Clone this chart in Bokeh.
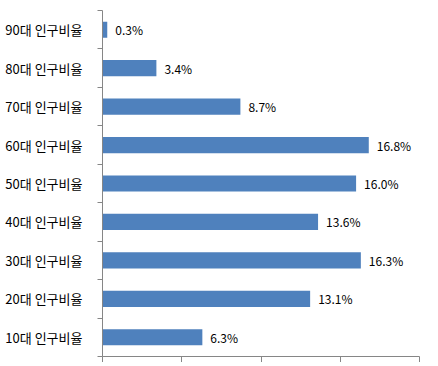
from bokeh.plotting import figure
from bokeh.models import Range1d, LinearAxis, FixedTicker, ColumnDataSource
from bokeh.core.properties import value
from bokeh.embed import file_html
from bokeh.resources import INLINE

categories = ["10대 인구비율", "20대 인구비율", "30대 인구비율", "40대 인구비율",
              "50대 인구비율", "60대 인구비율", "70대 인구비율", "80대 인구비율", "90대 인구비율"]
values = [6.3, 13.1, 16.3, 13.6, 16.0, 16.8, 8.7, 3.4, 0.3]
value_labels = ["6.3%", "13.1%", "16.3%", "13.6%", "16.0%", "16.8%", "8.7%", "3.4%", "0.3%"]
x_ticks = [0, 5, 10, 15, 20]

FONT = "Noto Sans CJK KR"
AXIS_COLOR = "#868686"

n = len(categories)
centers = [i + 0.5 for i in range(n)]
bounds = list(range(n + 1))

src = ColumnDataSource(dict(y=centers, val=values, lab=value_labels))

p = figure(y_range=Range1d(0, n), x_range=Range1d(0, 20),
           frame_width=317, frame_height=346,
           min_border_top=10, min_border_right=11, min_border_left=102, min_border_bottom=0,
           output_backend="svg", toolbar_location=None, x_axis_location=None, y_axis_location=None)
p.outline_line_color = None
p.xgrid.visible = False
p.ygrid.visible = False

y_axis = LinearAxis(ticker=FixedTicker(ticks=centers, minor_ticks=bounds),
                    major_tick_out=0, major_tick_in=0, minor_tick_out=5, minor_tick_in=0,
                    major_label_overrides={c: lab for c, lab in zip(centers, categories)},
                    major_label_standoff=15,
                    major_label_text_font=FONT, major_label_text_font_size="13px",
                    major_label_text_color="#000000",
                    axis_line_color=AXIS_COLOR, minor_tick_line_color=AXIS_COLOR)
p.add_layout(y_axis, "left")

x_axis = LinearAxis(ticker=FixedTicker(ticks=x_ticks), major_tick_out=6, major_tick_in=0,
                    minor_tick_out=0, minor_tick_in=0,
                    major_label_text_font_size="0px", major_label_standoff=0,
                    axis_line_color=AXIS_COLOR, major_tick_line_color=AXIS_COLOR)
p.add_layout(x_axis, "below")

p.hbar(y="y", right="val", left=0, height=0.42, source=src,
       fill_color="#4F81BD", line_color=None)

p.text(x="val", y="y", text="lab", source=src, x_offset=8,
       text_baseline="middle", text_align="left",
       text_font=value(FONT), text_font_size="12px", text_color="#000000")

open("out.html", "w").write(file_html(p, INLINE))
